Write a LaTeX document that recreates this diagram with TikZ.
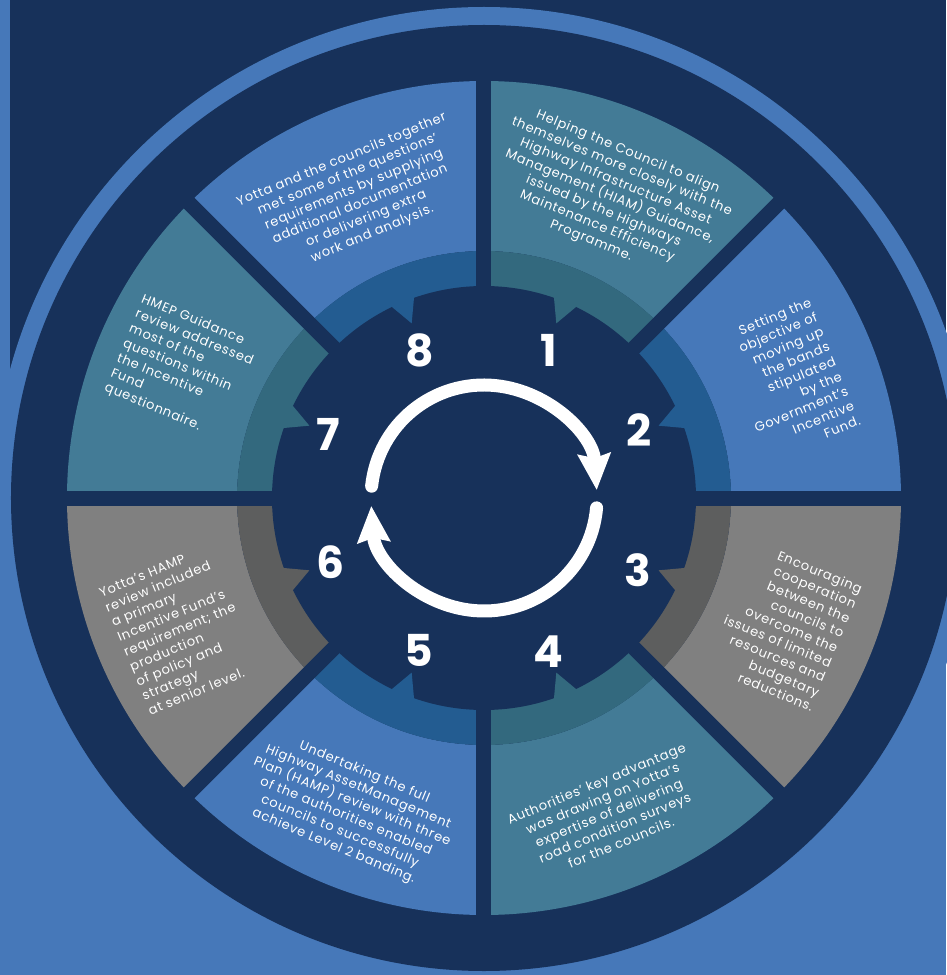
\documentclass[tikz,border=0pt]{standalone}
\usepackage{fontspec}
\setmainfont{Poppins}
\newfontfamily\segfont[LetterSpace=6]{Poppins}
\usetikzlibrary{arrows.meta}
\definecolor{navy}{HTML}{17315A}
\definecolor{lblue}{HTML}{4678B9}
\definecolor{tealseg}{HTML}{437B96}
\definecolor{grayseg}{HTML}{808080}
\definecolor{bandblue}{HTML}{235C91}
\definecolor{bandteal}{HTML}{33697E}
\definecolor{bandgray}{HTML}{5D5E5E}
\begin{document}
\begin{tikzpicture}[x=1pt,y=1pt,
  segtext/.style={text=white, font=\segfont\fontsize{13}{16}\selectfont, inner sep=0pt},
  num/.style={text=white, font=\fontsize{44}{44}\selectfont\bfseries, inner sep=0pt},
  cyc/.style={white, line width=13pt, line cap=round, -{Stealth[length=36pt,width=32pt,inset=4pt]}}]
\useasboundingbox (-484,-477) rectangle (462,498);
\fill[lblue] (-484,-477) rectangle (462,498);
\fill[navy] (-474,0) rectangle (462,498);
\fill[lblue] (0,0) circle[radius=491];
\fill[navy] (0,0) circle[radius=473];
% segments and inner bands
\foreach[evaluate=\a as \e using \a+45] \a/\c/\b in {45/tealseg/bandteal, 0/lblue/bandblue, -45/grayseg/bandgray, -90/tealseg/bandteal, -135/lblue/bandblue, 180/grayseg/bandgray, 135/tealseg/bandteal, 90/lblue/bandblue}{
  \fill[\c] (\a:417) arc[start angle=\a, end angle=\e, radius=417] -- (\e:247) arc[start angle=\e, end angle=\a, radius=247] -- cycle;
  \fill[\b] (\a:247) arc[start angle=\a, end angle=\e, radius=247] -- (\e:200) arc[start angle=\e, end angle=\a, radius=200] -- cycle;
}
% gaps
\foreach \g in {0,45,90,135}{
  \draw[navy, line width=15pt] (\g:-432) -- (\g:432);
}
% central disc
\fill[navy] (0,0) circle[radius=212];
% pointers
\foreach[evaluate=\m as \p using \m+3.7, evaluate=\m as \q using \m-3.7] \m/\b in {67.5/bandteal, 22.5/bandblue, -22.5/bandgray, -67.5/bandteal, -112.5/bandblue, 202.5/bandgray, 157.5/bandteal, 112.5/bandblue}{
  \fill[\b] (\p:216) -- (\m:189) -- (\q:216) -- cycle;
}
% cycle arrows
\draw[cyc] (174:113) arc[start angle=174, end angle=4, radius=113];
\draw[cyc] (-5:113) arc[start angle=-5, end angle=-176, radius=113];
% numbers
\node[num] (n1) at (64.3,148) {1};
\node[num] (n2) at (155.3,68) {2};
\node[num] (n3) at (154.3,-72) {3};
\node[num] (n4) at (64.3,-153.7) {4};
\node[num] (n5) at (-64.7,-152.7) {5};
\node[num] (n6) at (-153.3,-63.7) {6};
\node[num] (n7) at (-155.7,64) {7};
\node[num] (n8) at (-64.7,147.3) {8};
% texts
\node[segtext, align=center, rotate=22.5] (t8) at (-127,301) {Yotta and the councils together\\met some of the questions’\\requirements by supplying\\additional documentation\\or delivering extra\\work and analysis.};
\node[segtext, align=center, rotate=-22.5] (t1) at (125.5,301.3) {Helping the Council to align\\themselves more closely with the\\Highway Infrastructure Asset\\Management (HIAM) Guidance,\\issued by the Highways\\Maintenance Efficiency\\Programme.};
\node[segtext, align=right, rotate=22.5] (t2) at (304.9,118.3) {Setting the\\objective of\\moving up\\the bands\\stipulated\\by the\\Government’s\\Incentive\\Fund.};
\node[segtext, align=right, rotate=-22.5] (t3) at (300.1,-128.2) {Encouraging\\cooperation\\between the\\councils to\\overcome the\\issues of limited\\resources and\\budgetary\\reductions.};
\node[segtext, align=center, rotate=22.5] (t4) at (124.7,-314.8) {Authorities’ key advantage\\was drawing on Yotta’s\\expertise of delivering\\road condition surveys\\for the councils.};
\node[segtext, align=center, rotate=-22.5] (t5) at (-135,-311.5) {Undertaking the full\\Highway AssetManagement\\Plan (HAMP) review with three\\of the authorities enabled\\councils to successfully\\achieve Level 2 banding.};
\node[segtext, align=left, rotate=22.5] (t6) at (-304.4,-131.5) {Yotta’s HAMP\\review included\\a primary\\Incentive Fund’s\\requirement; the\\production\\of policy and\\strategy\\at senior level.};
\node[segtext, align=left, rotate=-22.5] (t7) at (-302.1,130.4) {HMEP Guidance\\review addressed\\most of the\\questions within\\the Incentive\\Fund\\questionnaire.};
\end{tikzpicture}
\end{document}
